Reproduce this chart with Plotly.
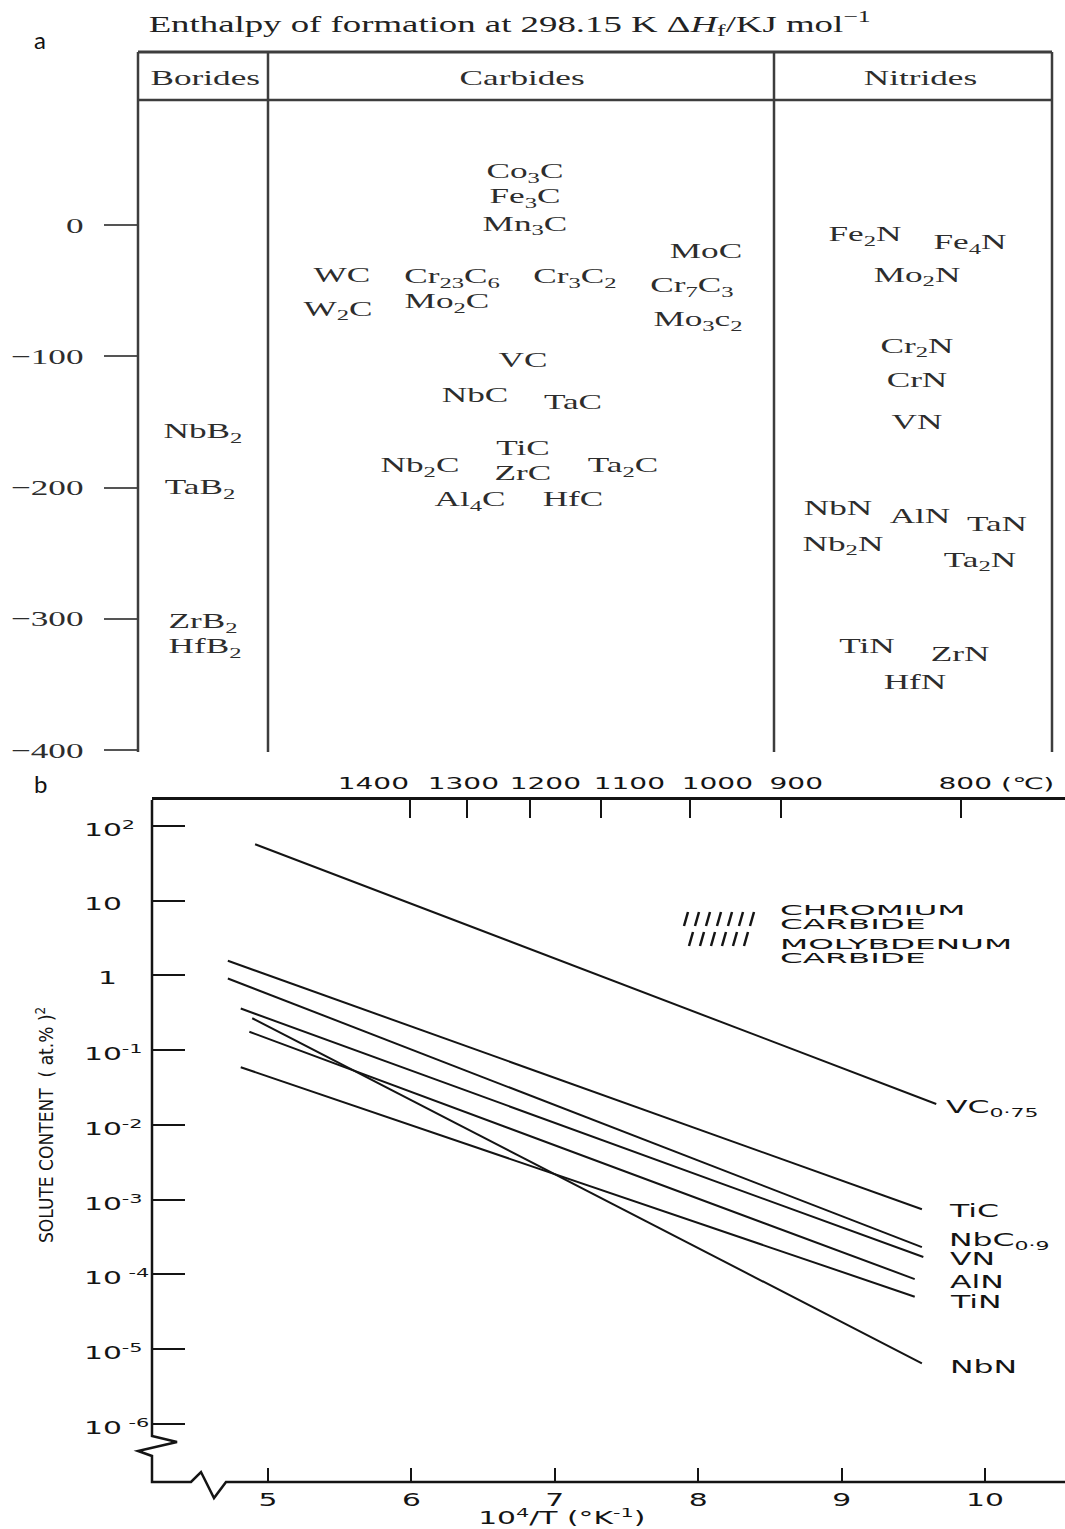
import math
import plotly.graph_objects as go

W, H = 1065, 1529

# ======================= DATA : panel a =======================
title_a = "Enthalpy of formation at 298.15 K Δ<i>H</i><sub>f</sub>/KJ mol<sup>−1</sup>"
column_names = ["Borides", "Carbides", "Nitrides"]
dH_ticks = [0, -100, -200, -300, -400]
dH_tick_text = ["0", "−100", "−200", "−300", "−400"]

boride_names = ["NbB<sub>2</sub>", "TaB<sub>2</sub>", "ZrB<sub>2</sub>", "HfB<sub>2</sub>"]
boride_dH = [-158, -201, -303, -322]

carbide_names = ["Co<sub>3</sub>C", "Fe<sub>3</sub>C", "Mn<sub>3</sub>C", "MoC", "WC",
                 "Cr<sub>23</sub>C<sub>6</sub>", "Cr<sub>3</sub>C<sub>2</sub>", "Cr<sub>7</sub>C<sub>3</sub>",
                 "W<sub>2</sub>C", "Mo<sub>2</sub>C", "Mo<sub>3</sub>c<sub>2</sub>", "VC", "NbC", "TaC",
                 "TiC", "Nb<sub>2</sub>C", "ZrC", "Ta<sub>2</sub>C", "Al<sub>4</sub>C", "HfC"]
carbide_dH = [40, 21, 0, -21, -39, -40, -40, -47, -65, -59, -73, -104, -131, -136,
              -171, -184, -190, -184, -210, -210]

nitride_names = ["Fe<sub>2</sub>N", "Fe<sub>4</sub>N", "Mo<sub>2</sub>N", "Cr<sub>2</sub>N", "CrN", "VN",
                 "NbN", "AlN", "TaN", "Nb<sub>2</sub>N", "Ta<sub>2</sub>N", "TiN", "ZrN", "HfN"]
nitride_dH = [-8, -14, -39, -93, -119, -151, -217, -223, -229, -244, -256, -322, -328, -349]

# ======================= DATA : panel b =======================
invT_ticks = [5, 6, 7, 8, 9, 10]
solute_ticks = [1e2, 1e1, 1, 1e-1, 1e-2, 1e-3, 1e-4, 1e-5, 1e-6]
solute_tick_text = ["10<sup>2</sup>", "10", "1", "10<sup>-1</sup>", "10<sup>-2</sup>",
                    "10<sup>-3</sup>", "10<sup> -4</sup>", "10<sup>-5</sup>", "10<sup> -6</sup>"]
celsius_labels = ["1400", "1300", "1200", "1100", "1000", "900", "800"]
celsius_at_invT = [5.99, 6.39, 6.83, 7.32, 7.94, 8.58, 9.83]

compounds_b = ["VC0.75", "TiC", "NbC0.9", "VN", "AlN", "TiN", "NbN"]
compound_labels_b = ["VC<sub>0·75</sub>", "TiC", "NbC<sub>0·9</sub>", "VN", "AlN", "TiN", "NbN"]
invT_start = [4.91, 4.72, 4.72, 4.81, 4.87, 4.81, 4.89]
invT_end = [9.66, 9.56, 9.56, 9.57, 9.51, 9.51, 9.56]
solute_start = [57.0, 1.57, 0.91, 0.36, 0.176, 0.059, 0.267]
solute_end = [0.019, 7.4e-4, 2.3e-4, 1.7e-4, 8.6e-5, 5.0e-5, 6.4e-6]

legend_lines = ["CHROMIUM", "CARBIDE", "MOLYBDENUM", "CARBIDE"]

# ======================= LAYOUT (pixel placement) =======================
def fx(p):
    return p / W


def fy(p):
    return 1 - p / H


SERIF = "Liberation Serif, Times New Roman, serif"
SANS = "DejaVu Sans, Verdana, sans-serif"
LEGEND_SANS = "Verdana, DejaVu Sans, sans-serif"
NARROW = "Liberation Sans Narrow, DejaVu Sans Condensed, Arial Narrow, sans-serif"
TXT_A = "#2d2d2d"
LINE_A = "#3d3d3d"
INK = "#141414"


def ann(text, xp, yp, size, family=SANS, color=INK, xanchor="center", **kw):
    align = {"left": "left", "right": "right"}.get(xanchor, "center")
    return dict(text=text, x=fx(xp), y=fy(yp), xref="paper", yref="paper",
                xanchor=xanchor, yanchor="middle", align=align, showarrow=False,
                font=dict(family=family, size=size, color=color), **kw)


# panel a geometry
A_LEFT, A_RIGHT, A_TOP, A_HEAD, A_BOTTOM = 138, 1052, 52, 100, 752
A_DIV = [268, 774]
A_ZERO_PX, A_PX_PER_KJ = 225, 1.3125
boride_xpos = [203, 200, 203, 205]
carbide_xpos = [525, 525, 525, 706, 342, 452, 575, 692, 338, 447, 698, 523, 475, 573,
                523, 420, 523, 623, 470, 573]
nitride_xpos = [865, 970, 917, 917, 917, 917, 838, 920, 997, 843, 980, 867, 960, 915]
header_xpos = [205, 522, 920]

# panel b geometry
B_LEFT, B_RIGHT, B_TOP, B_BOTTOM = 152, 1065, 800, 1482
X5_PX, PX_PER_INVT = 268, 143.4
LOG2_PX, PX_PER_DECADE = 826, 74.7
celsius_label_xpos = [373, 463, 545, 629, 717, 796, 965]


def invT_at(p):
    return 5 + (p - X5_PX) / PX_PER_INVT


def log_at(p):
    return 2 - (p - LOG2_PX) / PX_PER_DECADE


fig = go.Figure()

# ---------------- panel a traces ----------------
for names, vals, xs in [(boride_names, boride_dH, boride_xpos),
                        (carbide_names, carbide_dH, carbide_xpos),
                        (nitride_names, nitride_dH, nitride_xpos)]:
    fig.add_trace(go.Scatter(
        x=xs, y=vals, text=names, mode="text", textposition="middle center",
        textfont=dict(family=SERIF, size=22, color=TXT_A),
        xaxis="x", yaxis="y", hoverinfo="skip", showlegend=False))

# ---------------- panel b traces ----------------
for i, name in enumerate(compounds_b):
    fig.add_trace(go.Scatter(
        x=[invT_start[i], invT_end[i]], y=[solute_start[i], solute_end[i]],
        mode="lines", name=name, line=dict(color=INK, width=2),
        xaxis="x2", yaxis="y2", hoverinfo="skip", showlegend=False))

fig.add_trace(go.Scatter(x=[celsius_at_invT[0]], y=[1], mode="markers",
                         marker=dict(opacity=0), xaxis="x3", yaxis="y2",
                         hoverinfo="skip", showlegend=False))

annotations = []
shapes = []

# ---------------- panel a decorations ----------------
annotations.append(ann(title_a, 510, 23, 23, family=SERIF, color="#222"))
annotations.append(ann("a", 40, 40, 24, family="Lato, sans-serif", color="#111"))
for name, xp in zip(column_names, header_xpos):
    annotations.append(ann(name, xp, 77, 22, family=SERIF, color=TXT_A))
for xp in [A_LEFT] + A_DIV + [A_RIGHT]:
    shapes.append(dict(type="line", xref="paper", yref="paper", x0=fx(xp), x1=fx(xp),
                       y0=fy(A_TOP), y1=fy(A_BOTTOM), line=dict(color=LINE_A, width=2.5)))
for yp, wd in [(A_TOP, 3), (A_HEAD, 2.5)]:
    shapes.append(dict(type="line", xref="paper", yref="paper", x0=fx(A_LEFT), x1=fx(A_RIGHT),
                       y0=fy(yp), y1=fy(yp), line=dict(color=LINE_A, width=wd)))

# ---------------- panel b decorations ----------------
annotations.append(ann("b", 40, 783, 24, family="Lato, sans-serif", color="#111"))

# y tick labels (left aligned like the original)
for val, lab in zip(solute_ticks, solute_tick_text):
    lx = 96 if lab == "1" else 82
    annotations.append(dict(text=lab, x=fx(lx), y=math.log10(val), xref="paper", yref="y2",
                            xanchor="left", align="left", yanchor="middle", yshift=-3,
                            showarrow=False, font=dict(family=SANS, size=17, color=INK)))

# top (Celsius) tick labels
for lab, xp in zip(celsius_labels, celsius_label_xpos):
    annotations.append(ann(lab, xp, 783, 16))
annotations.append(ann("(℃)", 999, 783, 16, xanchor="left"))

# right-hand curve labels
label_px = [(944, 1108), (947, 1210), (947, 1241), (948, 1258), (948, 1281), (948, 1301), (948, 1366)]
for lab, (lxp, lyp) in zip(compound_labels_b, label_px):
    annotations.append(ann(lab, lxp, lyp, 18, xanchor="left"))

# legend (compact, widely set capitals)
for lab, lyp in zip(legend_lines, [910, 924, 944, 958]):
    annotations.append(ann(lab, 778, lyp, 14.5, family=LEGEND_SANS, xanchor="left"))
for n, x0, y0, y1 in [(7, 684, 926, 912), (6, 689, 946, 932)]:
    for k in range(n):
        xa = x0 + k * 11
        shapes.append(dict(type="line", xref="paper", yref="paper",
                           x0=fx(xa), y0=fy(y0), x1=fx(xa + 4), y1=fy(y1),
                           line=dict(color=INK, width=2.5)))

# axis titles
annotations.append(ann("10<sup>4</sup>/T (°K<sup>-1</sup>)", 562, 1517, 17))
annotations.append(ann("SOLUTE CONTENT  ( at.% )<sup>2</sup>", 45, 1125, 19,
                       family=NARROW, textangle=-90))

# left + bottom axis lines with break marks
axis_pts = [(B_LEFT, B_TOP), (B_LEFT, 1436), (177, 1442), (138, 1451), (B_LEFT, 1456),
            (B_LEFT, B_BOTTOM), (191, B_BOTTOM), (201, 1472), (214, 1498), (226, B_BOTTOM),
            (B_RIGHT, B_BOTTOM)]
path = "M " + " L ".join(f"{fx(px):.5f},{fy(py):.5f}" for px, py in axis_pts)
shapes.append(dict(type="path", xref="paper", yref="paper", path=path,
                   line=dict(color=INK, width=2.5)))

common = dict(showgrid=False, zeroline=False)

fig.update_layout(
    width=W, height=H, margin=dict(l=0, r=0, t=0, b=0),
    paper_bgcolor="white", plot_bgcolor="rgba(0,0,0,0)", template=None,
    showlegend=False,
    xaxis=dict(domain=[fx(A_LEFT), fx(A_RIGHT)], range=[A_LEFT, A_RIGHT], visible=False,
               anchor="y", **common),
    yaxis=dict(domain=[fy(A_BOTTOM), fy(A_TOP)],
               range=[(A_ZERO_PX - A_BOTTOM) / A_PX_PER_KJ, (A_ZERO_PX - A_TOP) / A_PX_PER_KJ],
               anchor="x", tickvals=dH_ticks, ticktext=dH_tick_text, ticks="outside",
               ticklen=33, tickwidth=2, tickcolor="#555", showline=False,
               ticklabelstandoff=16, tickfont=dict(family=SERIF, size=22, color=TXT_A), **common),
    xaxis2=dict(domain=[fx(B_LEFT), fx(B_RIGHT)], range=[invT_at(B_LEFT), invT_at(B_RIGHT)],
                anchor="y2", tickvals=invT_ticks, ticks="inside", ticklen=14, tickwidth=2,
                tickcolor=INK, showline=False, ticklabelstandoff=6,
                tickfont=dict(family=SANS, size=17, color=INK), **common),
    yaxis2=dict(domain=[fy(B_BOTTOM), fy(B_TOP)], type="log",
                range=[log_at(B_BOTTOM), log_at(B_TOP)], anchor="x2", tickvals=solute_ticks,
                showticklabels=False, ticks="inside", ticklen=33, tickwidth=2, tickcolor=INK,
                showline=False, **common),
    xaxis3=dict(overlaying="x2", anchor="y2", side="top",
                range=[invT_at(B_LEFT), invT_at(B_RIGHT)], tickvals=celsius_at_invT,
                showticklabels=False, ticks="inside", ticklen=18, tickwidth=2, tickcolor=INK,
                showline=True, linewidth=2.5, linecolor=INK, **common),
    annotations=annotations, shapes=shapes,
)

post = """
document.body.style.margin = '0';
document.body.style.overflow = 'hidden';
var gd = document.getElementById('{plot_id}');
gd.querySelectorAll('text').forEach(function(el){
  var ff = el.style.fontFamily || '';
  var s = 1;
  if (ff.indexOf('Liberation Serif') >= 0) s = 1.6;
  else if (ff.indexOf('Verdana') >= 0 && ff.indexOf('Verdana') < ff.indexOf('DejaVu')) s = 2.25;
  else if (ff.indexOf('DejaVu Sans') >= 0 && ff.indexOf('Condensed') < 0) s = 1.75;
  if (s === 1 || el.getAttribute('textLength')) return;
  var w = el.getComputedTextLength();
  if (w > 0) { el.setAttribute('textLength', (w * s).toFixed(2)); el.setAttribute('lengthAdjust', 'spacingAndGlyphs'); }
});
"""

fig.write_html("out.html", post_script=post, config={"responsive": False, "displayModeBar": False})
